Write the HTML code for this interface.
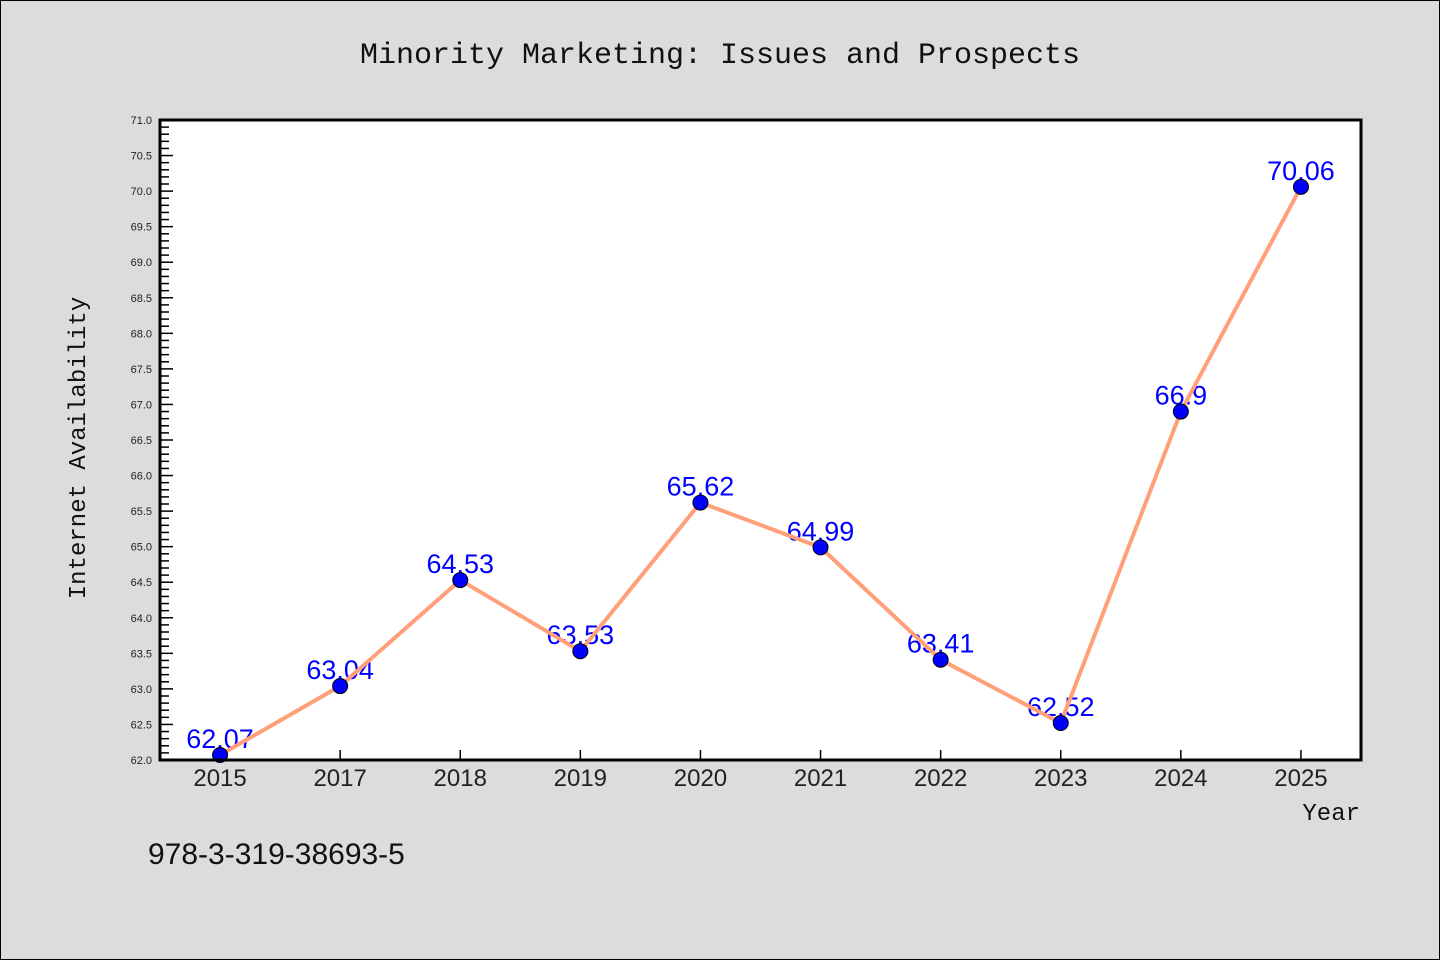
<!DOCTYPE html>
<html><head><meta charset="utf-8"><style>
body{margin:0;background:#dcdcdc;}
svg{display:block;font-family:"Liberation Sans","DejaVu Sans",sans-serif;}
</style></head><body>
<svg id="c" width="1440" height="960">
<rect x="0.5" y="0.5" width="1439" height="959" fill="#dcdcdc" stroke="#000"/>
<text x="720" y="63" text-anchor="middle" font-family="Liberation Mono,monospace" font-size="30" fill="#111">Minority Marketing: Issues and Prospects</text>
<rect x="160" y="120" width="1201" height="640" fill="#fff"/>
<g id="yt"></g><g id="xt"></g><g id="labels"></g><g id="series"></g>
<rect x="160" y="120" width="1201" height="640" fill="none" stroke="#000" stroke-width="3"/>
<text transform="translate(85,448) rotate(-90)" text-anchor="middle" font-family="Liberation Mono,monospace" font-size="24" fill="#111">Internet Availability</text>
<text x="1360" y="820" text-anchor="end" font-family="Liberation Mono,monospace" font-size="24" fill="#111">Year</text>
<text x="148" y="864" font-size="30" fill="#111">978-3-319-38693-5</text>
</svg>
<script>
const categories=["2015","2017","2018","2019","2020","2021","2022","2023","2024","2025"];
const values=[62.07,63.04,64.53,63.53,65.62,64.99,63.41,62.52,66.9,70.06];
const valueLabels=["62.07","63.04","64.53","63.53","65.62","64.99","63.41","62.52","66.9","70.06"];
const yMin=62,yMax=71;
const NS="http://www.w3.org/2000/svg";
const L=160,R=1361,T=120,B=760;
const step=(R-L)/categories.length;
function xs(i){return L+step*(i+0.5);}
function ys(v){return B-(v-yMin)/(yMax-yMin)*(B-T);}
function mk(t,a,p){const e=document.createElementNS(NS,t);for(const k in a)e.setAttribute(k,a[k]);p.appendChild(e);return e;}
const yt=document.getElementById('yt');
for(let k=0;k<=90;k++){const v=yMin+k*0.1;const y=ys(v);const major=k%5===0;
 const l=mk('line',{x1:L,x2:L+(major?13:9),y1:y,y2:y,stroke:'#000','stroke-width':1.5},yt);
 
 if(major){const t=mk('text',{x:L-8,y:y+4,'text-anchor':'end','font-size':11,fill:'#222'},yt);t.textContent=v.toFixed(1);
 }}
const xt=document.getElementById('xt');
categories.forEach((c,i)=>{const x=xs(i);
 const l=mk('line',{x1:x,x2:x,y1:B,y2:B-10,stroke:'#000','stroke-width':1.5},xt);
 
 const t=mk('text',{x:x,y:B+26,'text-anchor':'middle','font-size':24,fill:'#222'},xt);t.textContent=c;
 });
const lb=document.getElementById('labels');
values.forEach((v,i)=>{const t=mk('text',{x:xs(i),y:ys(v)-7,'text-anchor':'middle','font-size':27,fill:'#0000ff'},lb);t.textContent=valueLabels[i];
 });
const s=document.getElementById('series');
const pl=mk('polyline',{points:values.map((v,i)=>xs(i)+','+ys(v)).join(' '),fill:'none',stroke:'#ffa07a','stroke-width':4},s);

values.forEach((v,i)=>{const c=mk('circle',{cx:xs(i),cy:ys(v),r:7.5,fill:'#0000ff',stroke:'#000','stroke-width':1},s);
 });
</script>
</body></html>
